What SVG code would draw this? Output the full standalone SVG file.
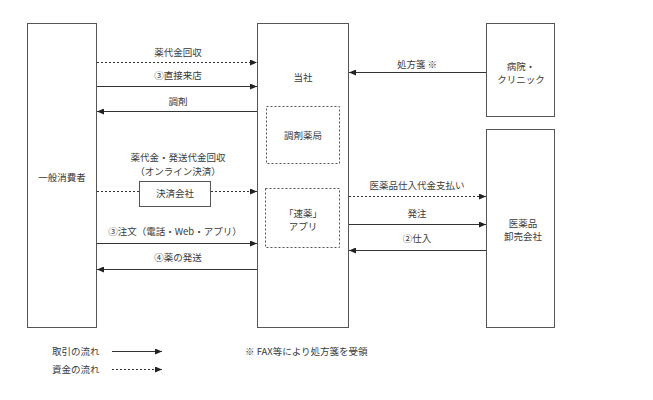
<svg xmlns="http://www.w3.org/2000/svg" width="653" height="400" viewBox="0 0 653 400">
<defs>
<marker id="ah" markerWidth="7" markerHeight="6" refX="7" refY="3" orient="auto" markerUnits="userSpaceOnUse">
<path d="M0,0 L7,3 L0,6 Z" fill="#222"/>
</marker>
</defs>
<style>
text{font-family:"Noto Sans CJK JP","Noto Sans CJK SC",sans-serif;font-size:9.5px;fill:#3a3a3a;text-anchor:middle;dominant-baseline:central}
.box{fill:#fff;stroke:#555;stroke-width:1}
.ibox{fill:none;stroke:#555;stroke-width:1;stroke-dasharray:2,2}
.s{stroke:#333;stroke-width:1;fill:none;marker-end:url(#ah)}
.d{stroke:#333;stroke-width:1;fill:none;stroke-dasharray:2,2;marker-end:url(#ah)}
.l{text-anchor:start}
</style>
<rect width="653" height="400" fill="#fff"/>
<g id="consumer"><rect class="box" x="27.5" y="23.5" width="69" height="304"/><text x="62" y="177">一般消費者</text></g>
<g id="company"><rect class="box" x="257.5" y="23.5" width="91" height="304"/><text x="303" y="77">当社</text></g>
<g id="pharmacy"><rect class="ibox" x="266.5" y="106.5" width="73" height="57"/><text x="303" y="135">調剤薬局</text></g>
<g id="app"><rect class="ibox" x="265.5" y="188.5" width="74" height="59"/><text x="303" y="213">「速薬」</text><text x="303" y="226">アプリ</text></g>
<g id="hospital"><rect class="box" x="486.5" y="23.5" width="68" height="93"/><text x="521" y="66">病院・</text><text x="521" y="79">クリニック</text></g>
<g id="wholesaler"><rect class="box" x="486.5" y="129.5" width="68" height="198"/><text x="523" y="223">医薬品</text><text x="523" y="236">卸売会社</text></g>
<g id="payment"><rect class="box" x="139.5" y="181.5" width="71" height="25"/><text x="175" y="193">決済会社</text></g>
<g id="connectors">
<line class="d" x1="97" y1="62.5" x2="257" y2="62.5"/>
<line class="s" x1="97" y1="86.5" x2="257" y2="86.5"/>
<line class="s" x1="257" y1="111.5" x2="97" y2="111.5"/>
<line class="d" x1="97" y1="191.5" x2="139" y2="191.5" style="marker-end:none"/>
<line class="d" x1="211" y1="191.5" x2="257" y2="191.5"/>
<line class="s" x1="97" y1="243.5" x2="257" y2="243.5"/>
<line class="s" x1="257" y1="269.5" x2="97" y2="269.5"/>
<line class="s" x1="486" y1="72.5" x2="349" y2="72.5"/>
<line class="d" x1="349" y1="196.5" x2="486" y2="196.5"/>
<line class="s" x1="349" y1="224.5" x2="486" y2="224.5"/>
<line class="s" x1="486" y1="250.5" x2="349" y2="250.5"/>
<line class="s" x1="112" y1="351.5" x2="162" y2="351.5"/>
<line class="d" x1="112" y1="369.5" x2="162" y2="369.5"/>
</g>
<g id="labels">
<text x="178" y="52">薬代金回収</text>
<text x="178" y="75">③直接来店</text>
<text x="178" y="101">調剤</text>
<text x="178" y="157">薬代金・発送代金回収</text>
<text x="178" y="171">（オンライン決済）</text>
<text x="175" y="231">③注文（電話・Web・アプリ）</text>
<text x="178" y="257">④薬の発送</text>
<text x="417" y="64">処方箋 ※</text>
<text x="417" y="185">医薬品仕入代金支払い</text>
<text x="417" y="213">発注</text>
<text x="417" y="238">②仕入</text>
<text class="l" x="52" y="351">取引の流れ</text>
<text class="l" x="52" y="369">資金の流れ</text>
<text class="l" x="245" y="351">※ FAX等により処方箋を受領</text>
</g>
</svg>
